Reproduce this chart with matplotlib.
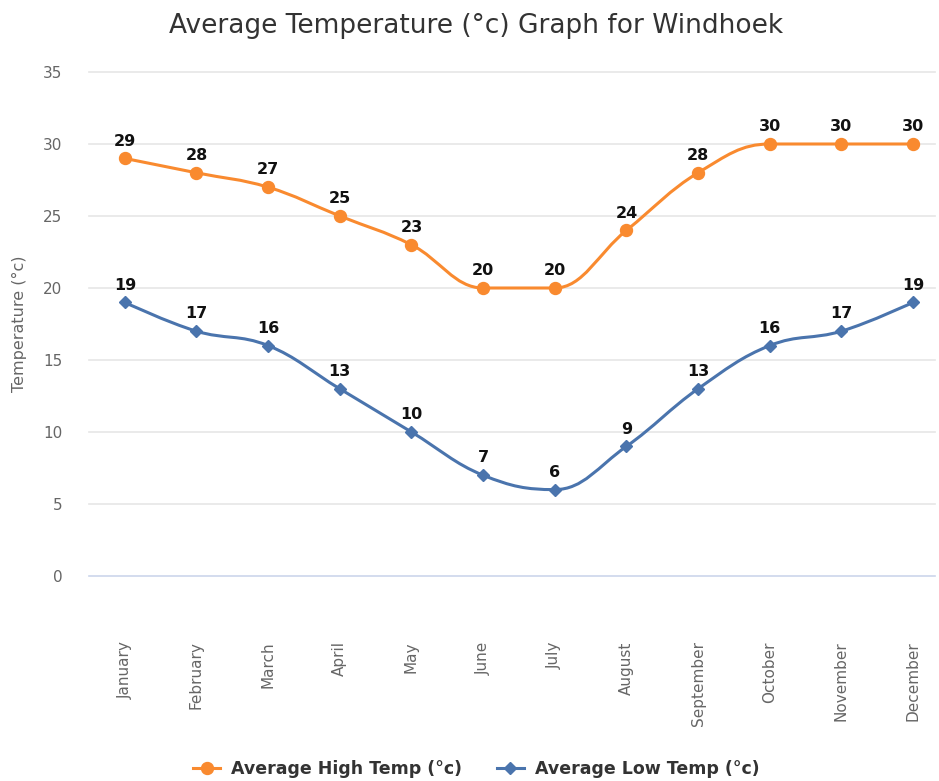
import matplotlib
matplotlib.use("Agg")
import matplotlib.pyplot as plt
from matplotlib.path import Path
from matplotlib.patches import PathPatch
from matplotlib.lines import Line2D
import numpy as np

months = ["January", "February", "March", "April", "May", "June", "July",
          "August", "September", "October", "November", "December"]
high_temp = [29, 28, 27, 25, 23, 20, 20, 24, 28, 30, 30, 30]
low_temp = [19, 17, 16, 13, 10, 7, 6, 9, 13, 16, 17, 19]
y_ticks = [0, 5, 10, 15, 20, 25, 30, 35]

title = "Average Temperature (°c) Graph for Windhoek"
y_title = "Temperature (°c)"
high_name = "Average High Temp (°c)"
low_name = "Average Low Temp (°c)"

ORANGE = "#f98a2f"
BLUE = "#4a74ad"


def hc_spline(xs, ys, smoothing=1.5):
    """Highcharts-style spline path (cubic Bezier) through points."""
    n = len(xs)
    denom = smoothing + 1
    right = [None] * n
    left = [None] * n
    for i in range(n):
        px, py = xs[i], ys[i]
        if 0 < i < n - 1:
            lx, ly = xs[i - 1], ys[i - 1]
            nx, ny = xs[i + 1], ys[i + 1]
            lcx = (smoothing * px + lx) / denom
            lcy = (smoothing * py + ly) / denom
            rcx = (smoothing * px + nx) / denom
            rcy = (smoothing * py + ny) / denom
            corr = 0
            if rcx != lcx:
                corr = ((rcy - lcy) * (rcx - px)) / (rcx - lcx) + py - rcy
            lcy += corr
            rcy += corr
            if lcy > ly and lcy > py:
                lcy = max(ly, py)
                rcy = 2 * py - lcy
            elif lcy < ly and lcy < py:
                lcy = min(ly, py)
                rcy = 2 * py - lcy
            if rcy > ny and rcy > py:
                rcy = max(ny, py)
                lcy = 2 * py - rcy
            elif rcy < ny and rcy < py:
                rcy = min(ny, py)
                lcy = 2 * py - rcy
            left[i] = (lcx, lcy)
            right[i] = (rcx, rcy)
        else:
            left[i] = (px, py)
            right[i] = (px, py)
    verts = [(xs[0], ys[0])]
    codes = [Path.MOVETO]
    for i in range(1, n):
        verts += [right[i - 1], left[i], (xs[i], ys[i])]
        codes += [Path.CURVE4] * 3
    return Path(verts, codes)


fig = plt.figure(figsize=(9.39, 7.81), dpi=100)
ax = fig.add_axes([89 / 939, 1 - 576 / 781, (935 - 89) / 939, (576 - 72) / 781])

x = np.arange(len(months))
ax.set_xlim(-0.5, 11 + (935 - 913) / 71.64)
ax.set_ylim(0, 35)

for yv in y_ticks:
    ax.axhline(yv, color="#e6e6e6" if yv != 0 else "#ccd6eb", lw=1.2,
               zorder=0, clip_on=False)

for ys, col, mk, ms, name in [(high_temp, ORANGE, "o", 8.6, high_name),
                              (low_temp, BLUE, "D", 6.2, low_name)]:
    p = hc_spline(list(x.astype(float)), [float(v) for v in ys])
    ax.add_patch(PathPatch(p, facecolor="none", edgecolor=col, lw=2.2, zorder=2))
    ax.plot(x, ys, linestyle="none", marker=mk, markersize=ms, color=col, zorder=3)
    for xi, yi in zip(x, ys):
        ax.annotate(str(yi), (xi, yi), xytext=(0, 7), textcoords="offset points",
                    ha="center", va="bottom", fontsize=11.5, fontweight="bold",
                    color="#111111", zorder=4)

for s in ax.spines.values():
    s.set_visible(False)

ax.set_yticks(y_ticks)
ax.set_yticklabels([str(v) for v in y_ticks])
ax.tick_params(axis="y", length=0, pad=19, labelsize=11, labelcolor="#666666")
ax.set_xticks(x)
ax.set_xticklabels(months, rotation=90, va="top", ha="center")
ax.tick_params(axis="x", length=0, pad=47, labelsize=11, labelcolor="#666666")

ax.set_ylabel(y_title, fontsize=11.5, color="#666666", labelpad=12)
fig.text(476 / 939, 1 - 26 / 781, title, ha="center", va="center",
         fontsize=19, color="#333333")

handles = [Line2D([0], [0], color=ORANGE, lw=2.2, marker="o", markersize=8.6),
           Line2D([0], [0], color=BLUE, lw=2.2, marker="D", markersize=6.2)]
leg = fig.legend(handles, [high_name, low_name], loc="center",
                 bbox_to_anchor=(476 / 939, 1 - 769 / 781), ncol=2, frameon=False,
                 prop={"weight": "bold", "size": 12.5}, handlelength=1.6,
                 columnspacing=2.0, handletextpad=0.6)
for t in leg.get_texts():
    t.set_color("#333333")

fig.savefig("out.png", dpi=100)
